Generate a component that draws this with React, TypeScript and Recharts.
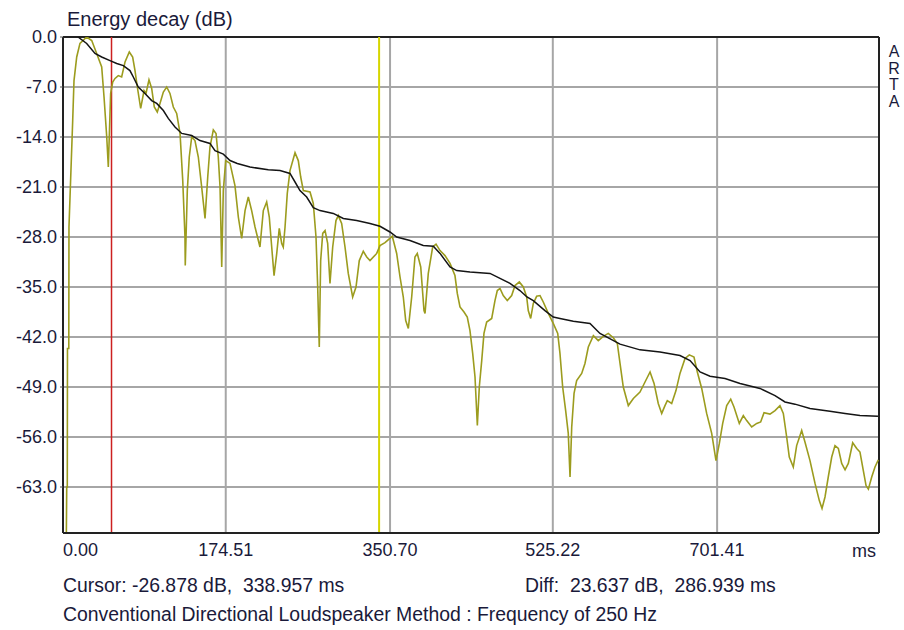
import React from 'react';
import { LineChart, Line, XAxis, YAxis, CartesianGrid, ReferenceLine } from 'recharts';

// Axis ticks and ranges
const xTicks = [0, 174.51, 350.7, 525.22, 701.41];
const yTicks = [0, -7, -14, -21, -28, -35, -42, -49, -56, -63];
const timeRange: [number, number] = [0, 875];
const levelRange: [number, number] = [-69.44, 0];

// Cursor positions (ms)
const cursorMs = 338.957;
const markerMs = 52.018;

// Energy-time curve: [time ms, level dB]
const etcCurve: [number, number][] = [
  [3.6, -69.4], [4.0, -63.0], [4.6, -63.0], [4.8, -43.6], [6.2, -43.6], [6.4, -26.6],
  [10.4, -11.7], [11.8, -6.1], [14.7, -2.8], [18.2, -0.9], [25.4, 0.0], [30.8, -0.5],
  [36.1, -2.3], [41.5, -4.2], [44.0, -8.4], [46.9, -14.0], [48.6, -18.2], [51.1, -7.9],
  [53.3, -6.3], [55.8, -5.8], [59.3, -5.4], [62.9, -5.6], [66.5, -3.5], [71.1, -2.1],
  [74.7, -2.8], [77.2, -4.7], [79.7, -7.0], [83.3, -10.0], [86.9, -7.5], [89.0, -7.9],
  [92.2, -6.0], [95.1, -7.2], [97.9, -9.8], [101.1, -10.5], [104.0, -9.3], [107.6, -7.7],
  [111.2, -7.0], [114.7, -7.9], [118.3, -9.8], [121.9, -10.7], [125.5, -13.5], [128.4, -20.1],
  [130.8, -28.0], [131.1, -32.0], [133.3, -21.5], [135.4, -16.8], [138.0, -14.0], [141.5, -14.5],
  [145.1, -16.8], [148.7, -21.0], [152.3, -25.4], [155.2, -19.6], [157.6, -15.4], [161.2, -13.0],
  [164.1, -13.5], [166.5, -16.8], [168.4, -21.0], [169.4, -27.1], [170.2, -32.2], [171.9, -21.5],
  [174.5, -17.3], [179.1, -17.7], [184.4, -20.8], [188.0, -25.2], [191.6, -28.2], [195.2, -24.3],
  [198.7, -22.4], [202.3, -24.3], [205.9, -26.6], [211.2, -29.4], [214.8, -24.3], [218.4, -23.1],
  [221.2, -25.2], [223.8, -29.4], [226.3, -33.4], [229.2, -30.3], [231.9, -26.8], [234.5, -28.9],
  [236.2, -29.4], [238.1, -26.6], [240.5, -21.9], [243.4, -18.7], [248.8, -16.2], [252.3, -17.3],
  [254.9, -19.6], [257.7, -21.5], [264.9, -21.7], [268.4, -23.3], [271.3, -28.0], [273.1, -35.0],
  [274.8, -43.4], [276.3, -31.3], [278.5, -27.5], [281.0, -27.1], [283.8, -28.9], [286.3, -34.5],
  [289.2, -29.4], [292.7, -25.7], [295.2, -25.0], [298.8, -26.1], [302.4, -29.4], [305.9, -33.1],
  [310.6, -36.4], [314.2, -35.0], [317.7, -31.3], [322.0, -30.0], [325.7, -30.8], [329.2, -31.3],
  [336.4, -30.3], [339.9, -29.2], [345.3, -28.8], [353.1, -27.9], [357.8, -30.3], [361.4, -33.6],
  [364.9, -36.4], [367.5, -39.7], [370.3, -40.8], [373.9, -36.4], [377.4, -30.8], [379.9, -30.3],
  [383.6, -32.2], [387.1, -38.3], [388.2, -38.7], [391.7, -33.1], [396.4, -29.4], [400.0, -29.0],
  [404.3, -29.9], [409.6, -30.6], [415.0, -31.7], [420.3, -33.4], [422.8, -35.9], [425.7, -37.8],
  [430.0, -38.5], [433.5, -39.2], [436.4, -41.1], [439.3, -44.3], [441.8, -47.6], [444.3, -54.4],
  [446.4, -49.0], [449.0, -45.3], [451.4, -41.5], [454.3, -39.9], [459.7, -39.4], [463.2, -36.9],
  [465.7, -35.5], [468.6, -35.2], [472.1, -36.2], [476.4, -36.9], [481.1, -36.2], [484.7, -34.8],
  [489.3, -34.3], [493.6, -35.0], [497.2, -36.4], [498.9, -38.3], [501.5, -39.4], [504.3, -37.3],
  [507.9, -36.3], [511.5, -36.2], [515.0, -37.1], [520.4, -38.7], [525.7, -40.1], [530.5, -41.5],
  [532.9, -44.3], [535.8, -49.0], [539.0, -52.3], [541.8, -55.5], [543.7, -61.6], [545.5, -54.6],
  [548.0, -49.9], [550.8, -48.1], [556.2, -47.1], [559.7, -45.7], [563.3, -43.4], [568.7, -41.8],
  [574.0, -42.5], [579.4, -41.9], [584.7, -41.5], [590.1, -42.1], [594.4, -42.9], [597.3, -45.7],
  [600.8, -49.0], [606.2, -51.6], [611.6, -50.6], [618.7, -49.7], [624.1, -48.3], [629.5, -46.9],
  [633.8, -48.5], [638.3, -51.3], [642.0, -52.7], [645.5, -51.6], [648.0, -50.9], [652.7, -51.3],
  [657.3, -49.5], [661.6, -47.1], [667.0, -45.0], [671.6, -44.5], [676.6, -44.8], [680.2, -46.9],
  [684.9, -49.2], [690.2, -52.7], [695.6, -55.5], [700.2, -59.3], [703.8, -56.9], [707.4, -54.1],
  [711.7, -51.6], [716.0, -50.7], [719.5, -51.8], [725.2, -54.1], [729.5, -53.0], [733.1, -53.7],
  [738.5, -54.6], [743.9, -54.1], [748.1, -53.9], [751.7, -52.6], [758.1, -52.8], [763.5, -52.3],
  [768.8, -51.6], [772.4, -52.7], [776.0, -56.0], [778.8, -58.8], [783.1, -60.2], [786.7, -57.2],
  [792.1, -55.1], [795.6, -56.7], [801.0, -59.3], [806.4, -62.5], [811.0, -64.9], [813.9, -66.0],
  [817.1, -64.4], [820.6, -61.6], [824.3, -58.8], [827.8, -57.2], [831.4, -57.6], [835.0, -59.7],
  [838.6, -60.6], [842.1, -59.7], [846.8, -56.8], [851.1, -57.6], [854.6, -58.1], [858.2, -60.7],
  [861.1, -62.8], [863.6, -63.3], [867.2, -61.6], [870.7, -60.2], [874.3, -59.2],
];

// Backward-integrated energy decay: [time ms, level dB]
const decayCurve: [number, number][] = [
  [16.1, 0.0], [25.4, -0.9], [34.3, -2.3], [41.5, -2.8], [50.4, -3.3], [57.6, -3.7],
  [64.7, -4.0], [71.8, -4.7], [75.4, -5.6], [80.7, -7.0], [87.9, -7.9], [95.1, -8.9],
  [100.5, -9.3], [107.6, -10.3], [112.9, -11.4], [120.1, -12.6], [127.3, -13.5], [138.0, -13.8],
  [146.9, -14.5], [157.6, -14.9], [163.0, -15.9], [171.9, -16.4], [179.1, -17.3], [186.9, -17.7],
  [200.5, -18.2], [220.1, -18.6], [232.7, -18.7], [243.4, -19.1], [248.8, -20.3], [254.1, -21.5],
  [261.3, -22.4], [268.4, -23.9], [275.6, -24.3], [289.8, -24.7], [300.6, -25.4], [314.9, -25.7],
  [329.2, -26.1], [339.9, -26.5], [350.6, -27.3], [357.8, -28.0], [372.1, -28.5], [386.3, -29.2],
  [397.1, -29.3], [404.3, -30.3], [415.0, -32.2], [422.2, -32.7], [436.4, -32.9], [457.9, -33.1],
  [468.6, -33.8], [479.3, -34.5], [490.0, -35.5], [497.5, -36.4], [504.3, -36.9], [516.8, -38.3],
  [525.7, -39.2], [532.9, -39.4], [547.2, -39.8], [565.1, -40.1], [575.8, -41.5], [597.3, -43.0],
  [618.7, -43.8], [640.2, -44.1], [661.6, -44.6], [672.4, -45.3], [683.1, -46.9], [693.8, -47.5],
  [709.9, -47.8], [726.0, -48.5], [747.4, -49.2], [763.5, -50.2], [774.2, -51.1], [784.9, -51.4],
  [801.0, -52.0], [822.4, -52.4], [838.6, -52.7], [854.6, -53.0], [873.9, -53.1],
];

const etcData = etcCurve.map(([t, db]) => ({ t, db }));
const decayData = decayCurve.map(([t, db]) => ({ t, db }));

const FONT = '"Liberation Sans", Arial, sans-serif';
const TEXT = '#1a1a3a';
const ARTA = ['A', 'R', 'T', 'A'];

const XTick = (props: any) => {
  const { x, y, payload } = props;
  const v = Number(payload.value);
  return (
    <text x={x} y={y} dy="0.71em" textAnchor={v === 0 ? 'start' : 'middle'}
      fontFamily={FONT} fontSize={18} fill={TEXT}>
      {v.toFixed(2)}
    </text>
  );
};

const YTick = (props: any) => {
  const { x, y, payload } = props;
  const v = Number(payload.value);
  return (
    <text x={x} y={y} dy="0.36em" textAnchor="end" fontFamily={FONT} fontSize={18} fill={TEXT}>
      {v.toFixed(1)}
    </text>
  );
};

export default function App() {
  return (
    <div style={{ position: 'absolute', left: 0, top: 0, width: 904, height: 630, background: '#fff' }}>
      <LineChart width={904} height={630} data={decayData}
        margin={{ top: 37, right: 25, bottom: 67, left: 0 }}>
        <CartesianGrid stroke="#a6a6a6" strokeWidth={2} />
        <XAxis dataKey="t" type="number" domain={timeRange} ticks={xTicks} interval={0}
          allowDataOverflow height={30} tickSize={0} tickMargin={10}
          axisLine={{ stroke: '#222', strokeWidth: 2 }} tick={<XTick />} />
        <YAxis type="number" domain={levelRange} ticks={yTicks} interval={0} allowDataOverflow
          width={63} tickSize={3} tickMargin={3} tickLine={{ stroke: '#555' }}
          axisLine={{ stroke: '#222', strokeWidth: 2 }} tick={<YTick />} />
        <ReferenceLine y={0} stroke="#222" strokeWidth={2} />
        <ReferenceLine x={875} stroke="#222" strokeWidth={2} />
        <ReferenceLine x={markerMs} stroke="#cc2020" strokeWidth={1.5} />
        <ReferenceLine x={cursorMs} stroke="#d6d600" strokeWidth={2} />
        <Line data={etcData} dataKey="db" type="linear" stroke="#9c9c1e" strokeWidth={1.6}
          dot={false} isAnimationActive={false} />
        <Line data={decayData} dataKey="db" type="linear" stroke="#141414" strokeWidth={1.5}
          dot={false} isAnimationActive={false} />
      </LineChart>
      <svg width={904} height={630} style={{ position: 'absolute', left: 0, top: 0, pointerEvents: 'none' }}>
        <g fontFamily={FONT} fill={TEXT}>
          <text x={67} y={26} fontSize={20}>Energy decay (dB)</text>
          <text x={876} y={557} fontSize={18} textAnchor="end">ms</text>
          <text x={63} y={592} fontSize={19.4} xmlSpace="preserve">Cursor: -26.878 dB,  338.957 ms</text>
          <text x={525} y={592} fontSize={19.4} xmlSpace="preserve">Diff:  23.637 dB,  286.939 ms</text>
          <text x={63} y={621} fontSize={19.4} xmlSpace="preserve">Conventional Directional Loudspeaker Method : Frequency of 250 Hz</text>
          <text x={894} y={57} fontSize={16} textAnchor="middle">
            {ARTA.map((ch, i) => (
              <tspan key={i} x={894} dy={i === 0 ? 0 : 16.5}>{ch}</tspan>
            ))}
          </text>
        </g>
      </svg>
    </div>
  );
}
